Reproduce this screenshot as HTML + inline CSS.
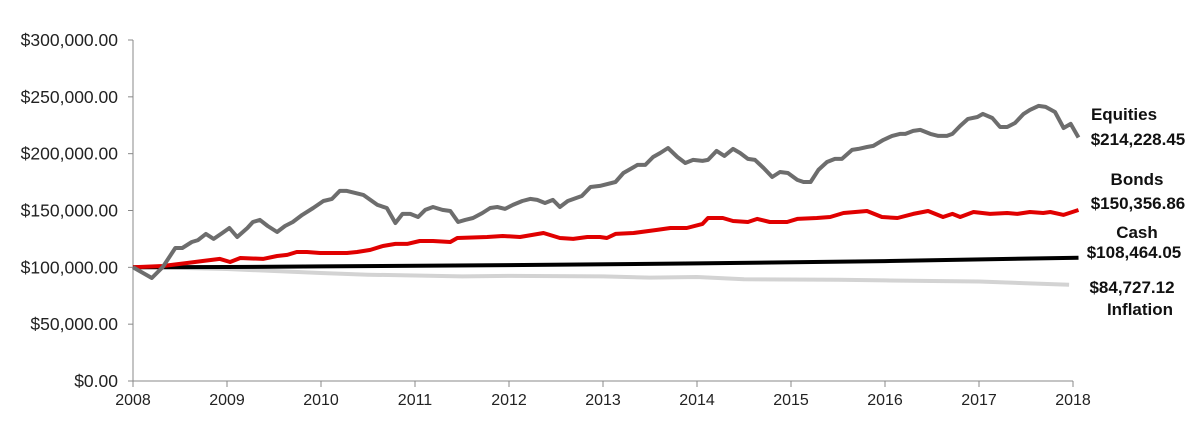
<!DOCTYPE html>
<html><head><meta charset="utf-8">
<style>
body{margin:0;background:#fff;}
svg{display:block;font-family:"Liberation Sans",Arial,sans-serif;}
</style></head>
<body>
<svg id="chart" width="1200" height="440" xmlns="http://www.w3.org/2000/svg">
<g id="axes"></g>
<g id="series"></g>
<g id="notes"></g>
</svg>
<script>
const yTicks=[0,50000,100000,150000,200000,250000,300000];
const yTickLabels=["$0.00","$50,000.00","$100,000.00","$150,000.00","$200,000.00","$250,000.00","$300,000.00"];
const xYears=[2008,2009,2010,2011,2012,2013,2014,2015,2016,2017,2018];
// months since Jan 2008, values in $k
const eqMonths=[0,2.4,3.8,5.4,6.3,7.5,8.3,9.3,10.3,11.4,12.3,13.3,14.6,15.3,16.2,17.2,18.4,19.4,20.4,21.6,23,24.3,25.4,26.4,27.3,29.4,31.2,32.4,33.5,34.4,35.4,36.4,37.3,38.3,39.5,40.5,41.5,42.4,43.4,44.6,45.6,46.5,47.5,48.5,49.7,50.7,51.6,52.6,53.6,54.5,55.5,57.3,58.4,59.6,61.6,62.6,64.4,65.4,66.4,67.3,68.3,69.5,70.5,71.5,72.7,73.4,74.5,75.5,76.6,77.5,78.5,79.4,80.5,81.6,82.6,83.6,84.8,85.6,86.5,87.5,88.6,89.6,90.5,91.8,92.6,93.7,94.5,95.8,96.9,97.9,98.6,99.6,100.5,101.8,102.8,103.9,104.6,105.6,106.6,107.8,108.5,109.7,110.7,111.6,112.6,113.7,114.5,115.6,116.5,117.7,118.8,119.7,120.7];
const eqValues=[100,90.6,100.3,117,117,122.3,124,129.4,125,130.2,134.6,126.7,134.6,139.9,141.7,136.4,131.1,136.4,139.9,146.1,152.2,158.4,160.2,167.2,167.2,163.7,154.9,152.2,139,147,147,144.3,150.5,153.1,150.5,149.6,139.9,141.7,143.4,147.8,152.2,153.1,151.4,154.9,158.4,160.2,159.3,156.6,159.3,153.1,158.4,162.8,170.7,171.6,175.1,183,190.1,190.1,197.1,200.6,205,197.1,191.8,194.5,193.6,194.5,202.4,198,204.2,200.6,195.4,194.5,187.4,179.5,183.9,183,176.9,175.1,175.1,185.7,192.7,195.4,195.4,203.3,204.2,205.9,206.8,212.1,215.6,217.4,217.4,220,220.9,217.4,215.6,215.6,217.4,224.4,230.6,232.3,235,231.4,223.5,223.5,227,235,238.5,242,241.1,236.7,222.6,226.2,214.2];
const bdMonths=[0,3.8,6.9,8.9,11.1,12.4,13.7,16.6,18.4,19.7,20.9,22.2,23.9,27.3,28.6,30.3,31.9,33.5,35,36.6,38.3,40.5,41.4,45.2,47.2,49.4,52.4,54.5,56.2,58,59.6,60.5,61.6,63.9,66.9,68.6,70.7,72.7,73.4,75.3,76.6,78.5,79.7,81.3,83.5,84.8,87.3,89,90.7,93.7,95.6,97.6,99.6,101.5,103.4,104.6,105.6,107.3,109.4,111.6,112.9,114.5,116.2,117.1,118.8,120.7];
const bdValues=[100,101.2,103.8,105.6,107.4,104.7,108.2,107.4,110,110.9,113.5,113.5,112.6,112.6,113.5,115.3,118.8,120.6,120.6,123.2,123.2,122.3,125.8,126.7,127.6,126.7,130.2,125.8,125,126.7,126.7,125.8,129.4,130.2,132.9,134.6,134.6,138.2,143.4,143.4,140.8,139.9,142.6,139.9,139.9,142.6,143.4,144.3,147.8,149.6,144.3,143.4,147,149.6,144.3,147,144.3,148.7,147,147.8,147,148.7,147.8,148.7,146.1,150.4];
const cashMonths=[0,12,24,48,72,96,120.7];
const cashValues=[100,100.3,100.8,102,103.5,105.5,108.5];
const infMonths=[0,6,12,24,30,42,48,60,66,72,78,90,96,102,108,114,119.5];
const infValues=[100,99.5,98.5,95,93.5,92,92.5,92,91,91.5,89.5,89,88.5,88,87.5,86,84.7];

const X0=133,PXY=94,Y0=381,YTOP=40,YMAX=300000;
const xs=m=>X0+m/12*PXY;
const ys=v=>Y0-v/YMAX*(Y0-YTOP);
const NS="http://www.w3.org/2000/svg";
function mk(t,a,p){const e=document.createElementNS(NS,t);for(const k in a)e.setAttribute(k,a[k]);p.appendChild(e);return e;}
const axes=document.getElementById('axes');
let yl=mk('line',{x1:X0,y1:YTOP,x2:X0,y2:Y0,stroke:'#888','stroke-width':1},axes);


let xl=mk('line',{x1:X0,y1:Y0,x2:1073,y2:Y0,stroke:'#888','stroke-width':1},axes);


yTicks.forEach((v,i)=>{
 const y=ys(v);
 mk('line',{x1:X0-5,y1:y,x2:X0,y2:y,stroke:'#888'},axes);
 const t=mk('text',{x:118,y:y+6,'text-anchor':'end','font-size':17.5,fill:'#222'},axes);
 t.textContent=yTickLabels[i];
 
 
});
xYears.forEach(yr=>{
 const x=xs((yr-2008)*12);
 mk('line',{x1:x,y1:Y0,x2:x,y2:Y0+6,stroke:'#888'},axes);
 const t=mk('text',{x:x,y:405,'text-anchor':'middle','font-size':16,fill:'#222'},axes);
 t.textContent=yr;
 
 
});
const ser=document.getElementById('series');
function line(ms,vs,col,w,name){
 const d=ms.map((m,i)=>(i?'L':'M')+xs(m).toFixed(1)+','+ys(vs[i]*1000).toFixed(1)).join(' ');
 const p=mk('path',{d:d,fill:'none',stroke:col,'stroke-width':w,'stroke-linejoin':'round'},ser);
 
 
}
line(infMonths,infValues,'#d3d3d3',4,'inflation-line');
line(cashMonths,cashValues,'#000',4,'cash-line');
line(bdMonths,bdValues,'#e00000',4,'bonds-line');
line(eqMonths,eqValues,'#6d6d6d',4,'equities-line');
const notes=document.getElementById('notes');
[["Equities",1124,120,'equities-label'],["$214,228.45",1138,145,'equities-value'],["Bonds",1137,185,'bonds-label'],["$150,356.86",1138,209,'bonds-value'],["Cash",1137,238,'cash-label'],["$108,464.05",1134,258,'cash-value'],["$84,727.12",1132,293,'inflation-value'],["Inflation",1140,315,'inflation-label']].forEach(a=>{
 const t=mk('text',{x:a[1],y:a[2],'text-anchor':'middle','font-size':17,'font-weight':'bold',fill:'#111'},notes);
 t.textContent=a[0];
 
 
});
</script>
</body></html>
